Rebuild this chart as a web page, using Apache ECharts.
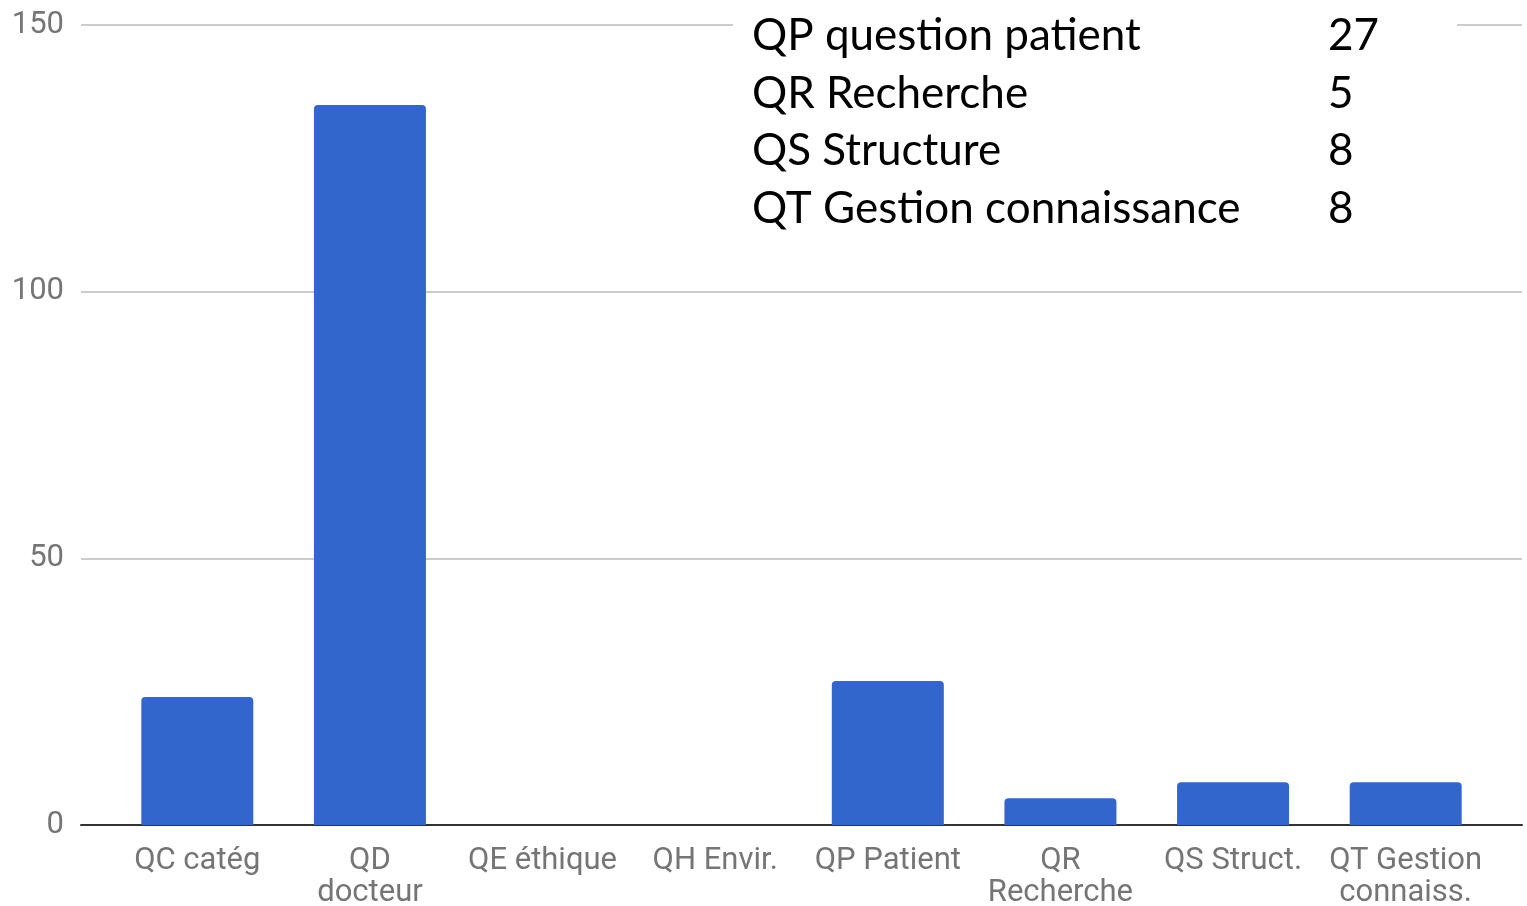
<!DOCTYPE html>
<html>
<head>
<meta charset="utf-8">
<title>Questions par catégorie</title>
<script src="https://cdn.jsdelivr.net/npm/echarts@6/dist/echarts.min.js"></script>
<style>
    html, body { margin: 0; padding: 0; background: #fff; }
    #chartBar { width: 1527px; height: 906px; }
</style>
</head>
<body>
<div id="chartBar"></div>
<script>
    // categories and counts
    var categories = ['QC catég', 'QD\ndocteur', 'QE éthique', 'QH Envir.', 'QP Patient', 'QR\nRecherche', 'QS Struct.', 'QT Gestion\nconnaiss.'];
    var counts = [24, 135, 0, 0, 27, 5, 8, 8];
    var yTicks = [0, 50, 100, 150];

    // the little table pasted top right
    var noteNames = ['QP question patient', 'QR Recherche', 'QS Structure', 'QT Gestion connaissance'];
    var noteCounts = [27, 5, 8, 8];

    var chartBar = echarts.init(document.getElementById('chartBar'));

    var noteGraphics = [{
        type: 'rect',
        shape: { x: 733, y: 10, width: 724, height: 225 },
        style: { fill: '#fff' },
        z: 10
    }];
    noteNames.forEach(function (name, i) {
        noteGraphics.push({
            type: 'text', x: 752, y: 36 + i * 57.5, z: 11,
            style: { text: name, font: '44px Lato', fill: '#000', verticalAlign: 'middle' }
        });
        noteGraphics.push({
            type: 'text', x: 1328, y: 36 + i * 57.5, z: 11,
            style: { text: String(noteCounts[i]), font: '44px Lato', fill: '#000', verticalAlign: 'middle' }
        });
    });

    chartBar.setOption({
        animation: false,
        textStyle: { fontFamily: 'Roboto' },
        grid: [
            // gridlines + axis line
            { left: 81, right: 5, top: 25, bottom: 81, outerBoundsMode: 'none', containLabel: false },
            // bars
            { left: 111, right: 35, top: 25, bottom: 81, outerBoundsMode: 'none', containLabel: false }
        ],
        xAxis: [
            {
                gridIndex: 0, type: 'value', min: 0, max: 1,
                axisLine: { show: true, onZero: false, lineStyle: { color: '#333', width: 2 } },
                axisTick: { show: false }, axisLabel: { show: false }, splitLine: { show: false }
            },
            {
                gridIndex: 1, type: 'category', data: categories,
                axisLine: { show: false }, axisTick: { show: false },
                axisLabel: { color: '#757575', fontSize: 31, lineHeight: 32, margin: 20, interval: 0 }
            }
        ],
        yAxis: [
            {
                gridIndex: 0, type: 'value', min: yTicks[0], max: yTicks[yTicks.length - 1], interval: 50,
                axisLine: { show: false }, axisTick: { show: false },
                axisLabel: { color: '#757575', fontSize: 31, margin: 17 },
                splitLine: { lineStyle: { color: '#ccc', width: 2 } }
            },
            {
                gridIndex: 1, type: 'value', min: 0, max: 150, show: false
            }
        ],
        graphic: noteGraphics,
        series: [
            {
                name: 'Questions',
                type: 'bar',
                xAxisIndex: 1,
                yAxisIndex: 1,
                barWidth: 112,
                itemStyle: { color: '#3366CC', borderRadius: [4, 4, 0, 0] },
                data: counts,
                z: 3
            }
        ]
    });
</script>
</body>
</html>
